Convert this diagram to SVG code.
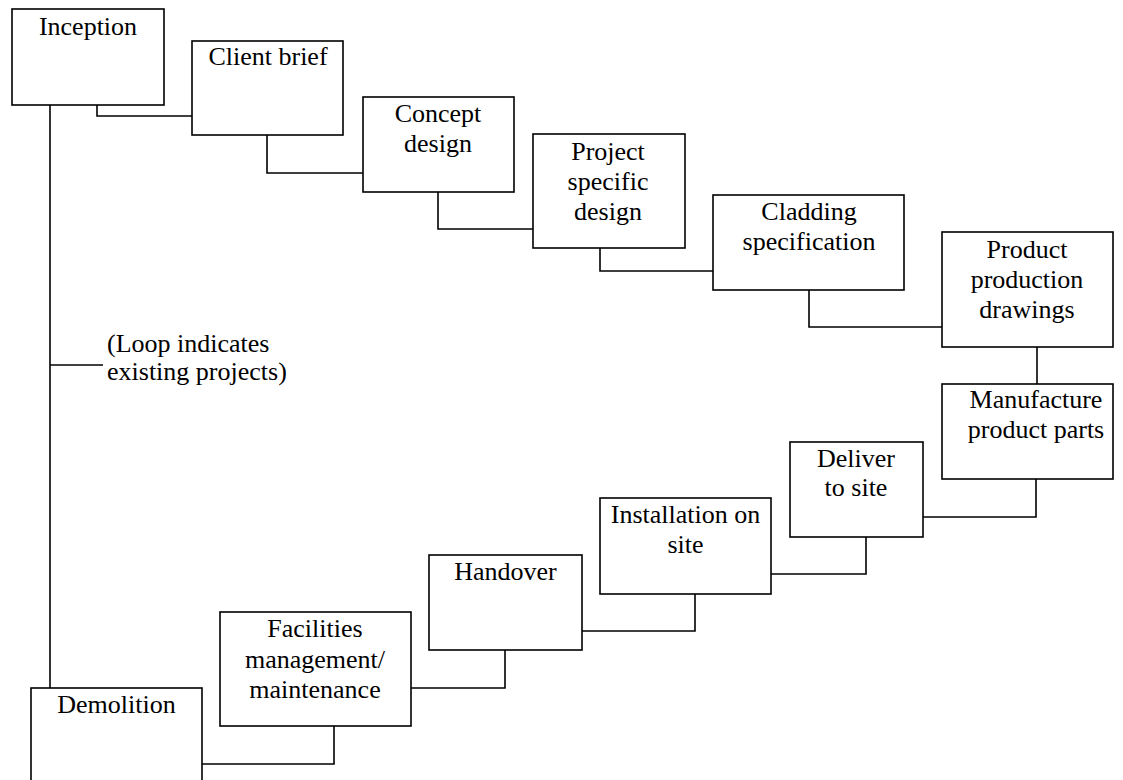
<svg xmlns="http://www.w3.org/2000/svg" width="1123" height="780" viewBox="0 0 1123 780">
<style>
.box{fill:#fff;stroke:#000;stroke-width:1.6}
.ln{fill:none;stroke:#000;stroke-width:1.6}
.c{text-anchor:middle}
</style>
<rect width="1123" height="780" fill="#fff"/>
<g id="connectors">
<path class="ln" d="M97,105 V116 H192"/>
<path class="ln" d="M267,135 V173 H363"/>
<path class="ln" d="M438,192 V229 H533"/>
<path class="ln" d="M600,248 V271 H713"/>
<path class="ln" d="M809,290 V327 H942"/>
<path class="ln" d="M1037,347 V384"/>
<path class="ln" d="M1036,479 V517 H923"/>
<path class="ln" d="M866,537 V574 H771"/>
<path class="ln" d="M695,594 V631 H582"/>
<path class="ln" d="M505,650 V688 H411"/>
<path class="ln" d="M334,726 V764 H202"/>
<path class="ln" d="M50,105 V688"/>
<path class="ln" d="M50,365 H103"/>
</g>
<g font-family="Liberation Serif, Times New Roman, DejaVu Serif, serif" font-size="26" fill="#000">
<g id="inception"><rect class="box" x="12" y="9" width="152" height="96"/><text class="c" x="88" y="35">Inception</text></g>
<g id="client-brief"><rect class="box" x="192" y="41" width="151" height="94"/><text class="c" x="268" y="65">Client brief</text></g>
<g id="concept-design"><rect class="box" x="363" y="97" width="151" height="95"/><text class="c" x="438" y="122">Concept</text><text class="c" x="438" y="152">design</text></g>
<g id="project-specific-design"><rect class="box" x="533" y="134" width="152" height="114"/><text class="c" x="608" y="160">Project</text><text class="c" x="608" y="190">specific</text><text class="c" x="608" y="220">design</text></g>
<g id="cladding-specification"><rect class="box" x="713" y="195" width="191" height="95"/><text class="c" x="809" y="220">Cladding</text><text class="c" x="809" y="250">specification</text></g>
<g id="product-production-drawings"><rect class="box" x="942" y="232" width="171" height="115"/><text class="c" x="1027" y="258">Product</text><text class="c" x="1027" y="288">production</text><text class="c" x="1027" y="318">drawings</text></g>
<g id="manufacture-product-parts"><rect class="box" x="942" y="384" width="171" height="95"/><text class="c" x="1036" y="408">Manufacture</text><text class="c" x="1036" y="438">product parts</text></g>
<g id="deliver-to-site"><rect class="box" x="790" y="442" width="133" height="95"/><text class="c" x="856" y="467">Deliver</text><text class="c" x="856" y="496">to site</text></g>
<g id="installation-on-site"><rect class="box" x="600" y="498" width="171" height="96"/><text class="c" x="685.5" y="523">Installation on</text><text class="c" x="685.5" y="553">site</text></g>
<g id="handover"><rect class="box" x="429" y="555" width="153" height="95"/><text class="c" x="505.5" y="580">Handover</text></g>
<g id="facilities-management"><rect class="box" x="220" y="612" width="191" height="114"/><text class="c" x="315" y="637">Facilities</text><text class="c" x="315" y="668">management/</text><text class="c" x="315" y="698">maintenance</text></g>
<g id="demolition"><rect class="box" x="31" y="688" width="171" height="100"/><text class="c" x="116.5" y="713">Demolition</text></g>
<g id="loop-note"><text x="107" y="352">(Loop indicates</text><text x="107" y="380">existing projects)</text></g>
</g>
</svg>
